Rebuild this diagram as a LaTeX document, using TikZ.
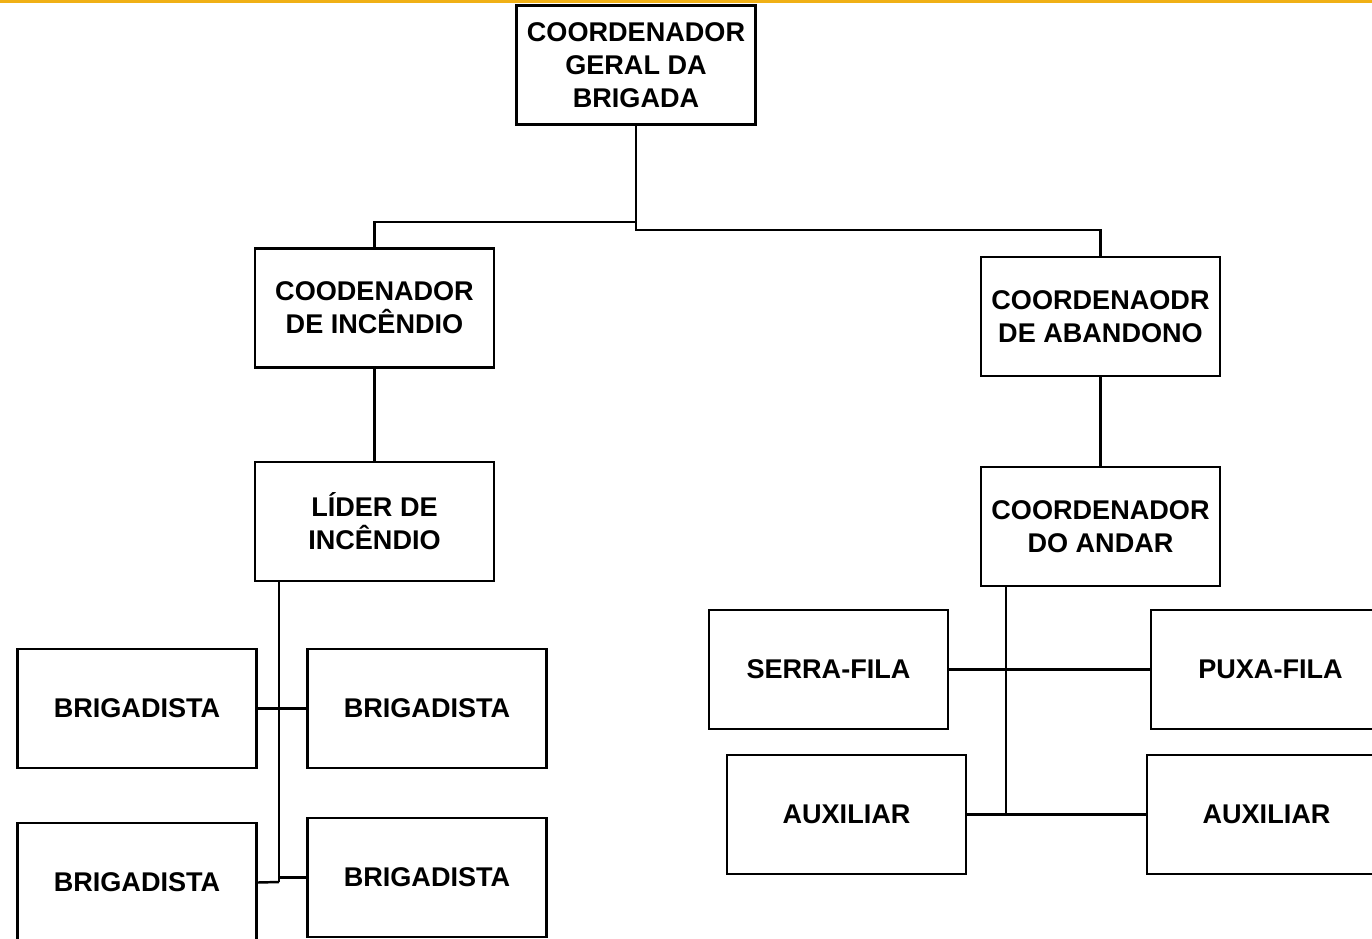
\documentclass[tikz,border=0pt]{standalone}
\usepackage{fontspec}
\setmainfont{Liberation Sans}
\usepackage{tikz}
\usetikzlibrary{calc}
\definecolor{faixa}{RGB}{240,176,22}
\tikzset{
	caixa/.style={draw, line width=0.7pt, minimum width=2.39cm, minimum height=1.19cm, inner sep=0pt, align=center, font=\fontsize{7.7}{9.4}\selectfont\bfseries},
	liga/.style={line width=0.7pt}
}

\begin{document}
\begin{tikzpicture}[x=0.01cm, y=-0.01cm]
			%%%%% START %%%%%
			
			\clip (0, 0) rectangle (1372, 939);
			\useasboundingbox (0, 0) rectangle (1372, 939);
			\fill[white] (0, 0) rectangle (1372, 939);
			\fill[faixa] (0, 0) rectangle (1372, 3);
			
			\node[caixa] (geral) at (636, 65) {COORDENADOR\\GERAL DA\\BRIGADA};
			
			\node[caixa] (incendio) at (374.5, 308) {COODENADOR\\DE INCÊNDIO};
			\node[caixa] (abandono) at (1100.5, 316.5) {COORDENAODR\\DE ABANDONO};
			
			\node[caixa] (lider) at (374.5, 521.5) {LÍDER DE\\INCÊNDIO};
			\node[caixa] (andar) at (1100.5, 526.5) {COORDENADOR\\DO ANDAR};
			
			\node[caixa] (brigA) at (137, 708.5) {BRIGADISTA};
			\node[caixa] (brigB) at (427, 708.5) {BRIGADISTA};
			\node[caixa] (brigC) at (137, 882.5) {BRIGADISTA};
			\node[caixa] (brigD) at (427, 877.5) {BRIGADISTA};
			
			\node[caixa] (serra) at (828.5, 669.5) {SERRA-FILA};
			\node[caixa] (puxa) at (1270.5, 669.5) {PUXA-FILA};
			\node[caixa] (auxA) at (846.5, 814.5) {AUXILIAR};
			\node[caixa] (auxB) at (1266.5, 814.5) {AUXILIAR};
			
			\coordinate (jesq) at (636, 222);
			\coordinate (jdir) at (636, 230);
			\coordinate (tesq) at (279, 882);
			\coordinate (tdir) at (1006, 813);
			
			\draw[liga] (geral.south) -- (jdir) -| (abandono.north);
			\draw[liga] (jesq) -| (incendio.north);
			\draw[liga] (incendio.south) -- (lider.north);
			\draw[liga] (abandono.south) -- (andar.north);
			
			\draw[liga] (lider.south -| tesq) -- (tesq);
			\draw[liga] (brigA.east) -- (brigB.west);
			\draw[liga] (brigC.east) -- (tesq);
			\draw[liga] (tesq |- brigD.west) -- (brigD.west);
			
			\draw[liga] (andar.south -| tdir) -- (tdir);
			\draw[liga] (serra.east) -- (puxa.west);
			\draw[liga] (auxA.east) -- (auxB.west);
			
			%%%%% END %%%%%
\end{tikzpicture}
\end{document}
